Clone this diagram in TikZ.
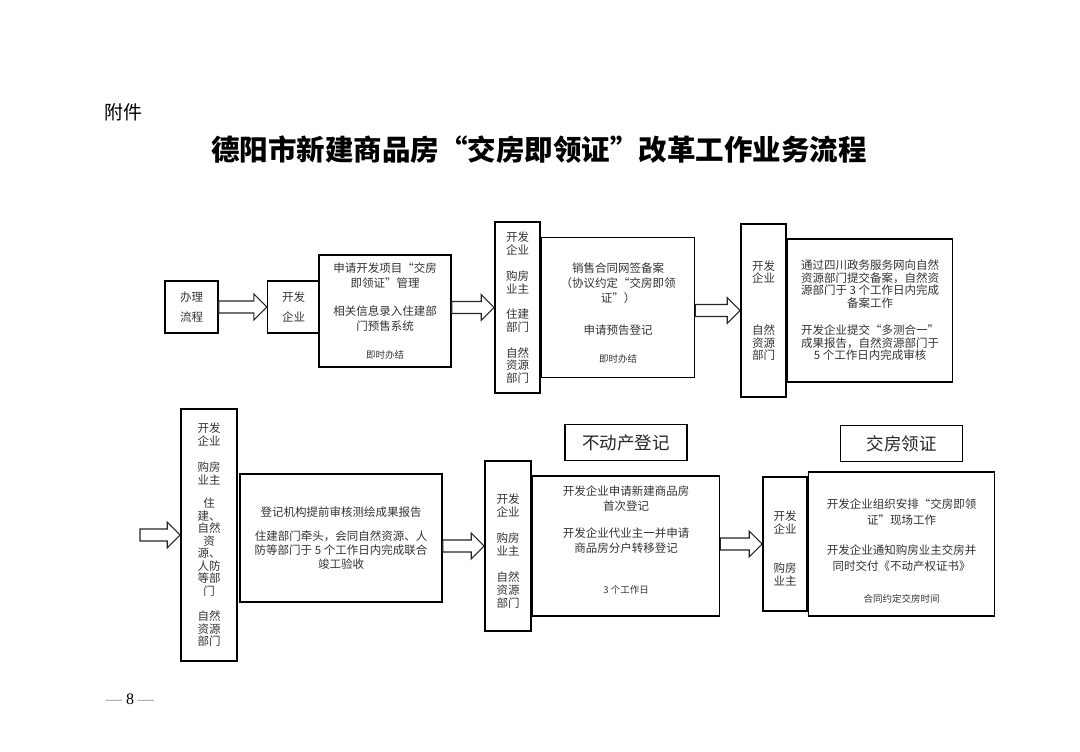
\documentclass[tikz,border=0pt]{standalone}
\usepackage{fontspec}
\setmainfont{Noto Sans CJK SC}
\newfontfamily\pagenumfont{Liberation Serif}
\usetikzlibrary{positioning, calc}
\tikzset{frame/.style={draw=black, line width=1.6pt, inner sep=0pt, align=center, text=black!80},
  flowtxt/.style={font=\fontsize{11.5}{20}\selectfont},
  body/.style={font=\fontsize{11.5}{15}\selectfont},
  side/.style={font=\fontsize{11.5}{12.5}\selectfont},
  stage/.style={draw, line width=1.4pt, minimum width=122pt, minimum height=36pt, text=black!85, font=\fontsize{17.5}{20}\selectfont},
  hollow/.style={draw=black!85, line width=1.1pt, fill=white}}
\newcommand\smalltxt{\fontsize{9.5}{12}\selectfont}
\newcommand\hollowarrow[2]{%
  \draw[hollow] let \p1=(#1), \p2=(#2) in
    (\x1,\y1+6pt) -- (\x2-13pt,\y1+6pt) -- (\x2-13pt,\y1+13pt) -- (\x2,\y1)
    -- (\x2-13pt,\y1-13pt) -- (\x2-13pt,\y1-6pt) -- (\x1,\y1-6pt) -- cycle;}

\begin{document}
\begin{tikzpicture}[x=1pt, y=-1pt]
            \useasboundingbox[fill=white] (0,0) rectangle (1080,752);
            \node[font=\fontsize{19}{22}\selectfont] (annex) at (123,112) {附件};
            \node[font=\fontsize{28.5}{32}\selectfont\bfseries] (title) at (539,150) {德阳市新建商品房“交房即领证”改革工作业务流程};

            % first row
            \node[frame, flowtxt, minimum width=53pt, minimum height=52pt] (flow) at (191.5,307) {办理\\流程};
            \node[frame, flowtxt, minimum width=52pt, minimum height=52pt, right=48pt of flow] (dev1) {开发\\企业};
            \node[frame, body, minimum width=132pt, minimum height=112pt] (apply) at (385,311)
                {申请开发项目“交房\\即领证”管理\\[13pt]相关信息录入住建部\\门预售系统\\[13pt]{\smalltxt 即时办结}};
            \node[frame, side, minimum width=45pt, minimum height=171pt] (part2) at (517.5,307.5)
                {开发\\企业\\[14pt]购房\\业主\\[13pt]住建\\部门\\[13.5pt]自然\\资源\\部门};
            \node[frame, body, minimum width=153pt, minimum height=140pt, right=0pt of part2] (sale)
                {\rule{0pt}{20pt}销售合同网签备案\\（协议约定“交房即领\\证”）\\[17pt]申请预告登记\\[13pt]{\smalltxt 即时办结}};
            \node[frame, side, minimum width=45pt, minimum height=173pt] (part3) at (763.5,310.5)
                {开发\\企业\\[39.5pt]自然\\资源\\部门};
            \node[frame, side, minimum width=165pt, minimum height=143pt, right=0pt of part3] (survey)
                {通过四川政务服务网向自然\\资源部门提交备案，自然资\\源部门于 3 个工作日内完成\\备案工作\\[15pt]开发企业提交“多测合一”\\成果报告，自然资源部门于\\5 个工作日内完成审核};

            % second row
            \coordinate (entry) at (140,535);
            \node[frame, side, minimum width=56pt, minimum height=252pt] (part4) at (209,535)
                {开发\\企业\\[14pt]购房\\业主\\[11pt]住\\建、\\自然\\资\\源、\\人防\\等部\\门\\[13pt]自然\\资源\\部门};
            \node[frame, font=\fontsize{11.5}{14}\selectfont, minimum width=202pt, minimum height=128pt] (check) at (341,538)
                {登记机构提前审核测绘成果报告\\[10pt]住建部门牵头，会同自然资源、人\\防等部门于 5 个工作日内完成联合\\竣工验收};
            \node[frame, font=\fontsize{11.5}{13}\selectfont, minimum width=46pt, minimum height=170pt] (part5) at (508,546)
                {\rule{0pt}{20pt}开发\\企业\\[13pt]购房\\业主\\[13pt]自然\\资源\\部门};
            \node[frame, body, minimum width=187pt, minimum height=140pt, right=0pt of part5] (register)
                {开发企业申请新建商品房\\首次登记\\[12pt]开发企业代业主一并申请\\商品房分户转移登记\\[26pt]{\smalltxt 3 个工作日\rule[-13pt]{0pt}{0pt}}};
            \node[stage, above=14pt of register] (regtitle) {不动产登记};
            \node[frame, side, minimum width=44pt, minimum height=134pt] (part6) at (785,544)
                {\rule{0pt}{19pt}开发\\企业\\[27pt]购房\\业主};
            \node[frame, font=\fontsize{11.5}{16}\selectfont, minimum width=186pt, minimum height=144pt, right=0pt of part6] (handover)
                {\rule{0pt}{23pt}开发企业组织安排“交房即领\\证”现场工作\\[14pt]开发企业通知购房业主交房并\\同时交付《不动产权证书》\\[16pt]{\smalltxt 合同约定交房时间}};
            \node[stage, above=9pt of handover] (handtitle) {交房领证};

            \hollowarrow{flow.east}{dev1.west}
            \hollowarrow{apply.east |- part2}{part2.west}
            \hollowarrow{sale.east |- part3}{part3.west}
            \hollowarrow{entry}{entry -| part4.west}
            \hollowarrow{check.east |- part5}{part5.west}
            \hollowarrow{register.east |- part6}{part6.west}

            \node[font=\pagenumfont\fontsize{16}{18}\selectfont] (page) at (130,699) {{\color{black!45}—} 8 {\color{black!45}—}};
        \end{tikzpicture}
\end{document}
